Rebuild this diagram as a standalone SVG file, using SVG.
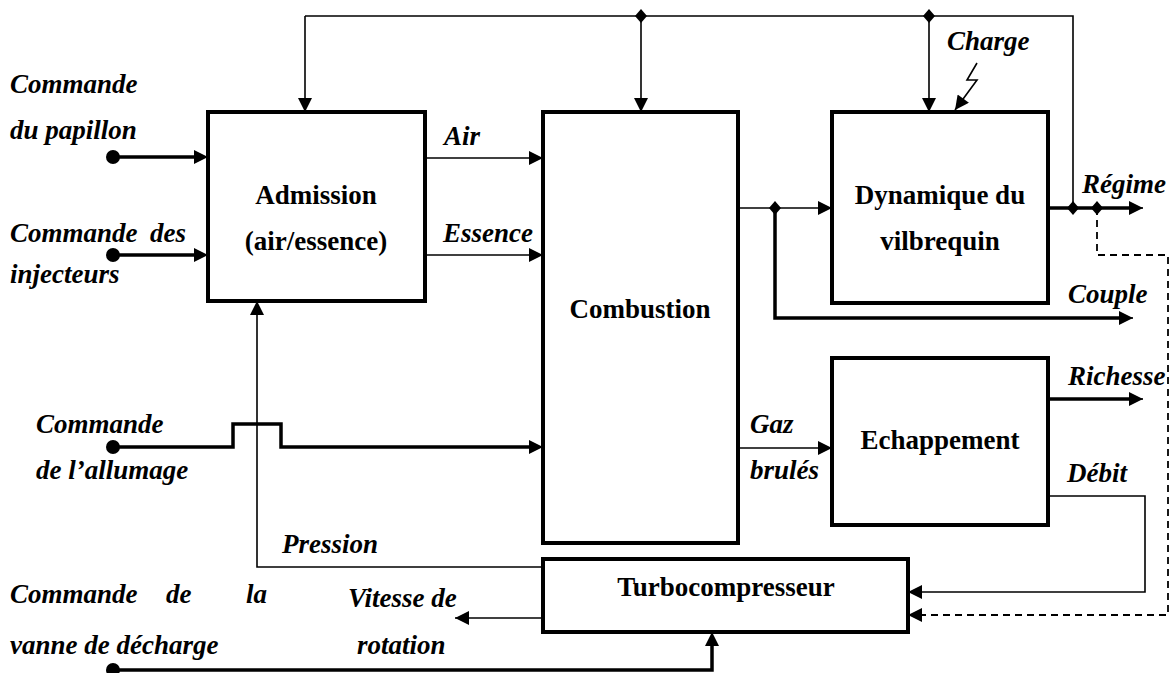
<svg xmlns="http://www.w3.org/2000/svg" width="1170" height="673" viewBox="0 0 1170 673">
<defs>
<style>
.box{fill:#fff;stroke:#000;stroke-width:4}
.thin{fill:none;stroke:#000;stroke-width:1.6}
.thick{fill:none;stroke:#000;stroke-width:3.5}
.dash{fill:none;stroke:#000;stroke-width:1.8;stroke-dasharray:7,5}
.lbl{font-family:"Liberation Serif",serif;font-weight:bold;font-style:italic;font-size:27px;fill:#000}
.nt{font-family:"Liberation Serif",serif;font-weight:bold;font-size:27px;fill:#000;text-anchor:middle}
</style>
<marker id="ah" viewBox="0 0 10 10" refX="10" refY="5" markerWidth="16" markerHeight="14" markerUnits="userSpaceOnUse" orient="auto"><path d="M0,0 L10,5 L0,10 z" fill="#000"/></marker>
</defs>

<g id="connectors">
<!-- top feedback bus -->
<path class="thin" d="M305,16 H1073 V208"/>
<path class="thin" d="M305,16 V112" marker-end="url(#ah)"/>
<path class="thin" d="M641,16 V112" marker-end="url(#ah)"/>
<path class="thin" d="M929,16 V112" marker-end="url(#ah)"/>
<!-- charge lightning -->
<path class="thin" d="M977,63 L967,80 L977,80 L955,110" marker-end="url(#ah)"/>
<!-- inputs -->
<path class="thick" d="M113,157 H197"/><path class="thin" d="M190,157 H208" marker-end="url(#ah)"/>
<path class="thick" d="M113,255 H197"/><path class="thin" d="M190,255 H208" marker-end="url(#ah)"/>
<path class="thick" d="M113,447 H233 V424 H281 V447 H532"/><path class="thin" d="M525,447 H543" marker-end="url(#ah)"/>
<circle cx="113" cy="157" r="7"/>
<circle cx="113" cy="255" r="7"/>
<circle cx="113" cy="447" r="7"/>
<!-- air / essence -->
<path class="thin" d="M425,158 H543" marker-end="url(#ah)"/>
<path class="thin" d="M425,255 H543" marker-end="url(#ah)"/>
<!-- combustion to dynamique / couple -->
<path class="thin" d="M738,208 H832" marker-end="url(#ah)"/>
<path class="thick" d="M775,208 V318 H1122"/><path class="thin" d="M1115,318 H1133" marker-end="url(#ah)"/>
<!-- gaz brules -->
<path class="thin" d="M738,448 H832" marker-end="url(#ah)"/>
<!-- regime -->
<path class="thick" d="M1048,208 H1132"/><path class="thin" d="M1125,208 H1143" marker-end="url(#ah)"/>
<!-- dashed regime to turbo -->
<path class="dash" d="M1097,208 V255 H1168 V615 H920"/>
<path class="thin" d="M922,615 H908" marker-end="url(#ah)"/>
<!-- richesse -->
<path class="thick" d="M1048,399 H1132"/><path class="thin" d="M1125,399 H1143" marker-end="url(#ah)"/>
<!-- debit -->
<path class="thin" d="M1048,496 H1145 V592 H908" marker-end="url(#ah)"/>
<!-- pression -->
<path class="thin" d="M543,567 H257 V301" marker-end="url(#ah)"/>
<!-- vitesse de rotation -->
<path class="thin" d="M543,618 H455" marker-end="url(#ah)"/>
<!-- vanne de decharge -->
<path class="thick" d="M113,670 H712 V645"/><path class="thin" d="M712,648 V632" marker-end="url(#ah)"/>
<circle cx="113" cy="670" r="7"/>
<!-- junction diamonds -->
<path d="M641,9 L647,16 L641,23 L635,16 z"/>
<path d="M929,9 L935,16 L929,23 L923,16 z"/>
<path d="M775,201 L781,208 L775,215 L769,208 z"/>
<path d="M1073,201 L1079,208 L1073,215 L1067,208 z"/>
<path d="M1097,201 L1103,208 L1097,215 L1091,208 z"/>
</g>

<g id="admission">
<rect class="box" x="208" y="112" width="217" height="189"/>
<text class="nt" x="316" y="204">Admission</text>
<text class="nt" x="316" y="250">(air/essence)</text>
</g>
<g id="combustion">
<rect class="box" x="543" y="112" width="195" height="431"/>
<text class="nt" x="640" y="318">Combustion</text>
</g>
<g id="dynamique">
<rect class="box" x="832" y="112" width="216" height="191"/>
<text class="nt" x="940" y="204">Dynamique du</text>
<text class="nt" x="940" y="250">vilbrequin</text>
</g>
<g id="echappement">
<rect class="box" x="832" y="358" width="216" height="167"/>
<text class="nt" x="940" y="449">Echappement</text>
</g>
<g id="turbo">
<rect class="box" x="543" y="559" width="365" height="73"/>
<text class="nt" x="726" y="596">Turbocompresseur</text>
</g>

<g id="labels">
<text class="lbl" x="10" y="93">Commande</text>
<text class="lbl" x="10" y="139">du papillon</text>
<text class="lbl" x="10" y="242">Commande</text>
<text class="lbl" x="150" y="242">des</text>
<text class="lbl" x="10" y="283">injecteurs</text>
<text class="lbl" x="36" y="433">Commande</text>
<text class="lbl" x="36" y="479">de l’allumage</text>
<text class="lbl" x="10" y="603">Commande</text>
<text class="lbl" x="166" y="603">de</text>
<text class="lbl" x="246" y="603">la</text>
<text class="lbl" x="10" y="654">vanne de décharge</text>
<text class="lbl" x="444" y="145">Air</text>
<text class="lbl" x="443" y="242">Essence</text>
<text class="lbl" x="750" y="433">Gaz</text>
<text class="lbl" x="750" y="479">brulés</text>
<text class="lbl" x="947" y="50">Charge</text>
<text class="lbl" x="1082" y="193">Régime</text>
<text class="lbl" x="1068" y="303">Couple</text>
<text class="lbl" x="1068" y="385">Richesse</text>
<text class="lbl" x="1067" y="482">Débit</text>
<text class="lbl" x="282" y="553">Pression</text>
<text class="lbl" x="348" y="607">Vitesse de</text>
<text class="lbl" x="357" y="654">rotation</text>
</g>
</svg>
